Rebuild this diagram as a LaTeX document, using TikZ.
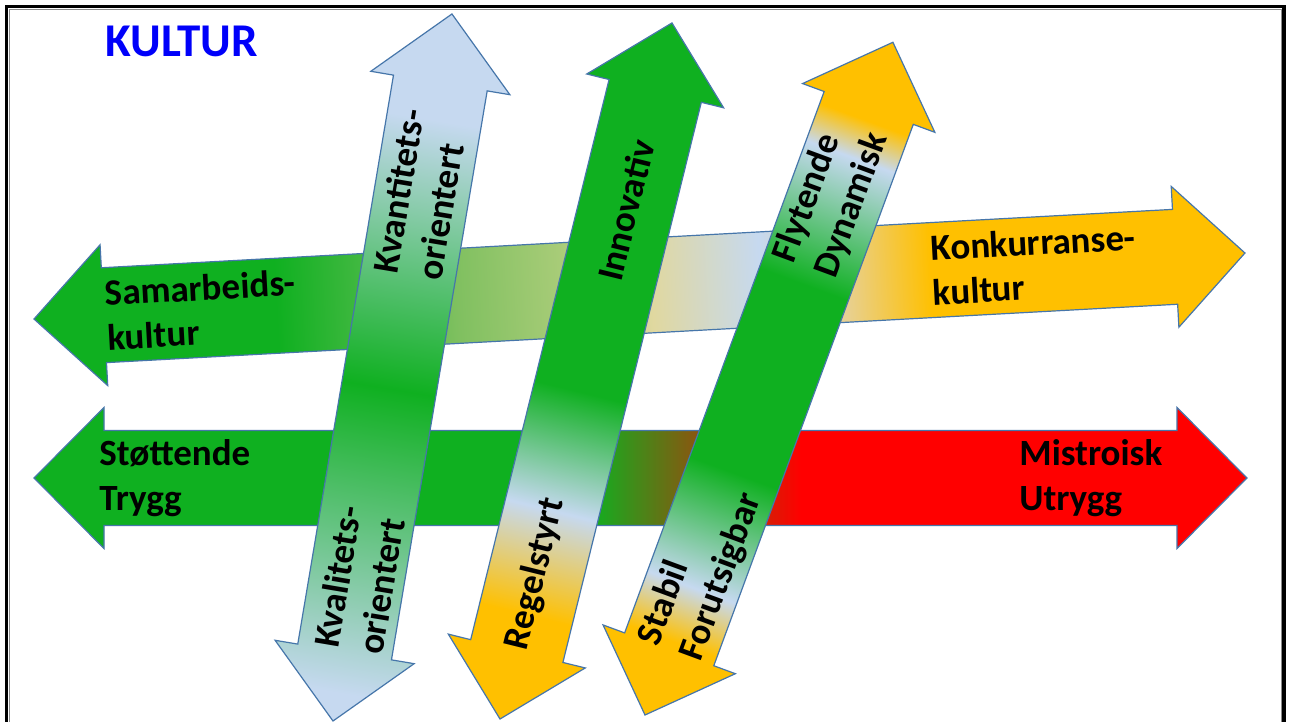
\documentclass[tikz,border=0pt]{standalone}
\usepackage{fontspec}
\setmainfont{Carlito}
\definecolor{cG}{RGB}{15,176,32}
\definecolor{cG2}{RGB}{64,184,64}
\definecolor{cG3}{RGB}{128,192,96}
\definecolor{cKhaki}{RGB}{168,204,120}
\definecolor{cTan}{RGB}{224,216,160}
\definecolor{cTan2}{RGB}{232,208,144}
\definecolor{cB}{RGB}{198,217,240}
\definecolor{cY}{RGB}{255,192,0}
\definecolor{cR}{RGB}{255,0,0}
\definecolor{cLine}{RGB}{70,118,170}
\definecolor{cTitle}{RGB}{0,0,250}
\pgfdeclarehorizontalshading{shKultur}{100bp}{color(0bp)=(cG); color(35bp)=(cG); color(38.5bp)=(cG2); color(42.5bp)=(cG3); color(46.8bp)=(cKhaki); color(50.5bp)=(cTan); color(55bp)=(cB); color(58.5bp)=(cTan2); color(62bp)=(cY); color(100bp)=(cY)}
\pgfdeclarehorizontalshading{shTrygg}{100bp}{color(0bp)=(cG); color(47.9bp)=(cG); color(56.6bp)=(cR); color(100bp)=(cR)}
\pgfdeclarehorizontalshading{shKvant}{100bp}{color(0bp)=(cB); color(27bp)=(cB); color(48.5bp)=(cG); color(67.5bp)=(cB); color(100bp)=(cB)}
\pgfdeclarehorizontalshading{shInnov}{100bp}{color(0bp)=(cY); color(32.5bp)=(cY); color(40bp)=(cB); color(48.5bp)=(cG); color(100bp)=(cG)}
\pgfdeclarehorizontalshading{shFlyt}{100bp}{color(0bp)=(cY); color(30.5bp)=(cY); color(34.5bp)=(cB); color(43bp)=(cG); color(57bp)=(cG); color(66.5bp)=(cB); color(69.25bp)=(cY); color(100bp)=(cY)}
\tikzset{
  dblarrow/.style={insert path={(0,0) -- (70,-70.5) -- (70,-47.5) -- ({#1-70},-47.5) -- ({#1-70},-70.5) -- (#1,0) -- ({#1-70},70.5) -- ({#1-70},47.5) -- (70,47.5) -- (70,70.5) -- cycle}},
  arrowbody/.style={shade, draw=cLine, line width=0.6pt, line join=miter},
  lbl/.style={font=\bfseries\fontsize{18.5pt}{22.2pt}\selectfont, inner sep=0pt, align=left, text=black, anchor=west}
}
\begin{document}
\begin{tikzpicture}[x=0.5pt, y=-0.5pt]
\useasboundingbox (0,0) rectangle (1290,722);
\fill[white] (0,0) rectangle (1290,722);
% frame
\draw[black!45, line width=0.4pt] (9.2,722) -- (9.2,9.2) -- (1281,9.2) -- (1281,722);
\draw[black, line width=1.6pt] (6.5,722) -- (6.5,6.5) -- (1284,6.5) -- (1284,722);
% title
\node[font=\bfseries\fontsize{23.5pt}{28pt}\selectfont, text=cTitle, inner sep=0pt, anchor=base west] (title) at (105,57) {KULTUR};
% arrow 1: Samarbeids- / Konkurranse-kultur
\begin{scope}[transform canvas={shift={(34,319)}, rotate=3.12}]
  \path[arrowbody, shading=shKultur] [dblarrow=1212.8];
  \node[lbl] (samarbeid) at (72,0) {Samarbeids-\\kultur};
  \node[lbl] (konkurranse) at (899,0) {Konkurranse-\\kultur};
\end{scope}
% arrow 2: Stottende Trygg / Mistroisk Utrygg
\begin{scope}[transform canvas={shift={(34,478)}}]
  \path[arrowbody, shading=shTrygg] [dblarrow=1213];
  \node[lbl] (stottende) at (65,0) {Støttende\\Trygg};
  \node[lbl] (mistroisk) at (985,0) {Mistroisk\\Utrygg};
\end{scope}
% arrow 3: Kvalitets / Kvantitets
\begin{scope}[transform canvas={shift={(333,721)}, rotate=80.45}]
  \path[arrowbody, shading=shKvant] [dblarrow=717];
  \node[lbl] (kvantitet) at (451,-1) {Kvantitets-\\orientert};
  \node[lbl] (kvalitet) at (72,3) {Kvalitets-\\orientert};
\end{scope}
% arrow 4: Regelstyrt / Innovativ
\begin{scope}[transform canvas={shift={(500,719)}, rotate=76.12}]
  \path[arrowbody, shading=shInnov] [dblarrow=717];
  \node[lbl] (innovativ) at (452,0) {Innovativ};
  \node[lbl] (regelstyrt) at (72,0) {Regelstyrt};
\end{scope}
% arrow 5: Stabil Forutsigbar / Flytende Dynamisk
\begin{scope}[transform canvas={shift={(645,715)}, rotate=69.77}]
  \path[arrowbody, shading=shFlyt] [dblarrow=717];
  \node[lbl] (flytende) at (474,-4) {Flytende\\Dynamisk};
  \node[lbl] (stabil) at (68,2) {Stabil\\Forutsigbar};
\end{scope}
\end{tikzpicture}
\end{document}
